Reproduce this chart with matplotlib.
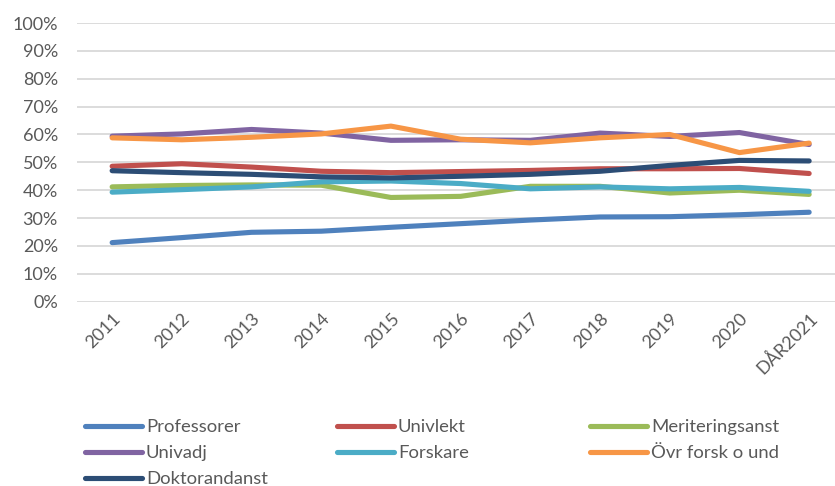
import numpy as np
import matplotlib.pyplot as plt
import matplotlib.ticker as mtick

years = ['2011', '2012', '2013', '2014', '2015', '2016', '2017', '2018', '2019', '2020', 'DÅR2021']

professorer = [21.2, 23.0, 24.9, 25.3, 26.7, 28.0, 29.3, 30.4, 30.5, 31.2, 32.1]
univlekt = [48.6, 49.5, 48.3, 46.8, 46.3, 46.7, 47.1, 47.7, 47.7, 47.8, 46.0]
meritering = [41.2, 41.7, 41.9, 41.8, 37.4, 37.8, 41.4, 41.4, 39.0, 40.0, 38.5]
univadj = [59.4, 60.2, 61.8, 60.5, 57.9, 58.1, 57.9, 60.5, 59.3, 60.7, 56.4]
forskare = [39.3, 40.2, 41.2, 43.0, 43.3, 42.4, 40.5, 41.2, 40.5, 41.0, 39.6]
ovr_forsk = [58.8, 58.1, 59.0, 60.2, 63.0, 58.3, 57.0, 58.8, 60.0, 53.5, 56.9]
doktorand = [47.0, 46.3, 45.7, 44.8, 44.4, 45.0, 45.7, 46.8, 48.9, 50.7, 50.5]

series = [
    ('Professorer', professorer, '#4F81BD'),
    ('Univlekt', univlekt, '#C0504D'),
    ('Meriteringsanst', meritering, '#9BBB59'),
    ('Univadj', univadj, '#8064A2'),
    ('Forskare', forskare, '#4BACC6'),
    ('Övr forsk o und', ovr_forsk, '#F79646'),
    ('Doktorandanst', doktorand, '#2C4D75'),
]

plt.rcParams['font.family'] = ['Lato', 'DejaVu Sans']
txt = '#595959'

fig = plt.figure(figsize=(8.35, 4.86), dpi=100)
ax = fig.add_axes([77.3 / 835, 1 - 301.7 / 486, (844 - 77.3) / 835, (301.7 - 23) / 486])

x = np.arange(len(years))
lines = {}
for name, vals, col in series:
    ln, = ax.plot(x, vals, color=col, lw=3.7, solid_capstyle='round', solid_joinstyle='round', label=name)
    lines[name] = ln

ax.set_xlim(-0.5, len(years) - 0.5)
ax.set_ylim(0, 100)
ax.yaxis.set_major_locator(mtick.MultipleLocator(10))
ax.yaxis.set_major_formatter(mtick.PercentFormatter(decimals=0))
ax.grid(axis='y', color='#d9d9d9', lw=1.3)
ax.set_axisbelow(True)
for s in ax.spines.values():
    s.set_visible(False)
ax.set_xticks(x)
ax.set_xticklabels(years, rotation=45, ha='right', rotation_mode='anchor')
ax.tick_params(axis='both', length=0, colors=txt, labelsize=13)
ax.tick_params(axis='y', pad=14)
ax.tick_params(axis='x', pad=6)

# legend in three columns
cols = [(['Professorer', 'Univadj', 'Doktorandanst'], 85),
        (['Univlekt', 'Forskare'], 337),
        (['Meriteringsanst', 'Övr forsk o und'], 590)]
for names, xpos in cols:
    leg = fig.legend([lines[n] for n in names], names, loc='upper left',
                     bbox_to_anchor=(xpos / 835, 1 - 419 / 486), frameon=False,
                     fontsize=13.3, handlelength=3.1, handletextpad=0.2,
                     labelspacing=0.55, borderpad=0, borderaxespad=0)
    for t in leg.get_texts():
        t.set_color(txt)

fig.savefig('out.png', dpi=100)
